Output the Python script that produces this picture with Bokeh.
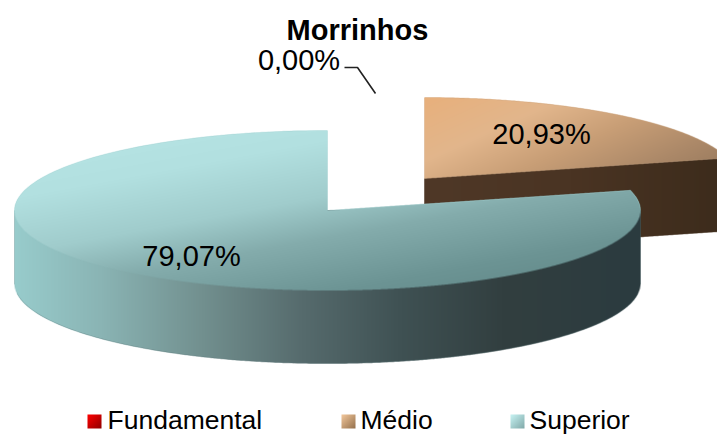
import numpy as np
from bokeh.plotting import figure
from bokeh.models import Range1d
from bokeh.core.properties import value
from bokeh.embed import file_html
from bokeh.resources import INLINE

categories = ["Fundamental", "Médio", "Superior"]
percent = [0.00, 20.93, 79.07]
labels = ["0,00%", "20,93%", "79,07%"]
title_text = "Morrinhos"

W, H = 717, 434
FONT = value("Liberation Sans")

p = figure(width=W, height=H, x_range=Range1d(0, W), y_range=Range1d(0, H),
           output_backend="svg", toolbar_location=None, min_border=0)
p.axis.visible = False
p.grid.visible = False
p.outline_line_color = None
p.background_fill_color = "white"
p.border_fill_color = "white"


def Y(py):
    return H - np.asarray(py, dtype=float)


def hexrgb(c):
    return np.array([int(c[i:i + 2], 16) for i in (1, 3, 5)], dtype=float)


def ramp(t, stops):
    ts = [s[0] for s in stops]
    cols = np.array([hexrgb(s[1]) for s in stops])
    return np.stack([np.interp(t, ts, cols[:, k]) for k in range(3)], axis=-1)


def shaded(x0, y0, x1, y1, mask_fn, color_fn, ss=3):
    """Paint an anti-aliased gradient raster on the library's own data scales."""
    nx, ny = int(x1 - x0), int(y1 - y0)
    xs = x0 + (np.arange(nx * ss) + .5) / ss
    ys = y0 + (np.arange(ny * ss) + .5) / ss
    X, Yp = np.meshgrid(xs, ys)
    m = mask_fn(X, Yp).astype(float)
    cov = m.reshape(ny, ss, nx, ss).mean(axis=(1, 3))
    xc = x0 + np.arange(nx) + .5
    yc = y0 + np.arange(ny) + .5
    Xc, Yc = np.meshgrid(xc, yc)
    rgb = color_fn(Xc, Yc)
    img = np.zeros((ny, nx), dtype=np.uint32)
    view = img.view(dtype=np.uint8).reshape((ny, nx, 4))
    view[..., :3] = np.clip(rgb, 0, 255).astype(np.uint8)
    view[..., 3] = (cov * 255).astype(np.uint8)
    p.image_rgba(image=[img[::-1]], x=[x0], y=[float(Y(y1))], dw=[x1 - x0], dh=[y1 - y0])


def sector_angle(X, Yp, cx, cy, rx, ry):
    return np.degrees(np.arctan2(-(Yp - cy) / ry, (X - cx) / rx)) % 360


# slice angles follow from the values, clockwise from twelve o'clock
start_medio = 90.0
end_medio = start_medio - percent[1] * 3.6
end_sup = end_medio - percent[2] * 3.6

RX, RY = 313.0, 80.0
SUP_C = (327.0, 210.0)
MED_C = (424.0, 178.0)
MED_RY = 81.0
DEPTH_S = 73.0
DEPTH_M = 73.0


def sector_poly(c, rx, ry, a0, a1, n=160):
    a = np.radians(np.linspace(a0, a1, n))
    xs = np.r_[c[0], c[0] + rx * np.cos(a)]
    ys = np.r_[c[1], c[1] - ry * np.sin(a)]
    return xs, Y(ys)


# ---------- Médio ----------
mx, my = sector_poly(MED_C, RX, MED_RY, start_medio, end_medio)
ca = np.cos(np.radians(end_medio))
sa = np.sin(np.radians(end_medio))
ex, ey = MED_C[0] + RX * ca, MED_C[1] - MED_RY * sa
p.patch([MED_C[0], ex, ex, MED_C[0]],
        Y([MED_C[1], ey, ey + DEPTH_M, MED_C[1] + DEPTH_M]),
        fill_color="#46321f", line_color=None)
p.patch(mx, my, fill_color="#c9a27c", line_color=None)


def med_wall_mask(X, Yp):
    top = MED_C[1] + (ey - MED_C[1]) * (X - MED_C[0]) / (ex - MED_C[0])
    return (X >= MED_C[0]) & (Yp >= top) & (Yp <= top + DEPTH_M)


shaded(0, 90, W, 250, med_wall_mask,
       lambda X, Yp: ramp((X - 424) / 293, [(0, "#4f3827"), (.5, "#4a3423"), (1, "#3d2c1c")]))


def med_top_mask(X, Yp):
    u = (X - MED_C[0]) / RX
    v = (Yp - MED_C[1]) / MED_RY
    a = sector_angle(X, Yp, MED_C[0], MED_C[1], RX, MED_RY)
    return (u * u + v * v <= 1) & (a >= end_medio) & (a <= start_medio)


def med_top_color(X, Yp):
    t = .62 * (X - 424) / 293 + .38 * (Yp - 97) / 81
    return ramp(t, [(0, "#e8b07c"), (.3, "#e2b68c"), (.55, "#c89e76"), (.8, "#ab8868"), (1, "#96785c")])


shaded(0, 90, W, 250, med_top_mask, med_top_color)

# ---------- Superior ----------
sx, sy = sector_poly(SUP_C, RX, RY, end_medio, end_sup)
arc = np.linspace(-1, 1, 200)
wx = SUP_C[0] + RX * arc
low = SUP_C[1] + RY * np.sqrt(1 - arc ** 2)
p.patch(np.r_[wx, wx[::-1]], Y(np.r_[low + DEPTH_S, np.full(200, SUP_C[1])[::-1]]),
        fill_color="#5f7a7c", line_color=None)
p.patch(sx, sy, fill_color="#a3d0d0", line_color=None)


def sup_wall_mask(X, Yp):
    u = (X - SUP_C[0]) / RX
    inside = np.abs(u) <= 1
    l = SUP_C[1] + RY * np.sqrt(np.clip(1 - u * u, 0, 1))
    return inside & (Yp >= SUP_C[1]) & (Yp <= l + DEPTH_S)


def sup_wall_color(X, Yp):
    t = (X - 14) / 626
    return ramp(t, [(0, "#98cccc"), (.14, "#8ab4b4"), (.3, "#72908f"), (.46, "#566b6d"),
                    (.62, "#3f5153"), (.78, "#323f40"), (1, "#2b3b3f")])


shaded(0, 120, W, 370, sup_wall_mask, sup_wall_color)


def sup_top_mask(X, Yp):
    u = (X - SUP_C[0]) / RX
    v = (Yp - SUP_C[1]) / RY
    a = sector_angle(X, Yp, SUP_C[0], SUP_C[1], RX, RY)
    return (u * u + v * v <= 1) & ~((a > end_medio) & (a < start_medio))


def sup_top_color(X, Yp):
    t = .42 * (X - 14) / 626 + .58 * (Yp - 130) / 160
    return ramp(t, [(0, "#b8e6e6"), (.25, "#b2e0e0"), (.45, "#a0cccc"), (.6, "#84acac"),
                    (.8, "#6c9494"), (1, "#5f8585")])


shaded(0, 120, W, 370, sup_top_mask, sup_top_color)

# ---------- Leader line ----------
p.line([344, 357, 375], Y([67, 67, 93]), line_color="#222222", line_width=1.6)

# ---------- Texts ----------
p.text([357], Y([29]), text=[title_text], text_font=FONT, text_font_size="29px", text_font_style="bold",
       text_align="center", text_baseline="middle", text_color="black")
p.text([298.5, 541, 191], Y([59, 133, 255]), text=[labels[0], labels[1], labels[2]], text_font=FONT,
       text_font_size="29px", text_align="center", text_baseline="middle", text_color="black")

# ---------- Legend ----------
leg_sq = [(87, "#ff0000", "#900000"), (341, "#f4c89c", "#94704c"), (510, "#c8f4f4", "#80a8a8")]
leg_tx = [107, 360, 529]
for (x0, c0, c1) in leg_sq:
    shaded(x0, 414, x0 + 14, 428, lambda X, Yp: np.ones_like(X, dtype=bool),
           lambda X, Yp, x0=x0, c0=c0, c1=c1: ramp(((X - x0) + (Yp - 414)) / 28, [(0, c0), (1, c1)]))
p.text(leg_tx, Y([419.5, 419.5, 419.5]), text=categories, text_font=FONT, text_font_size="26.5px",
       text_align="left", text_baseline="middle", text_color="black")

open("out.html", "w").write(file_html(p, INLINE))
